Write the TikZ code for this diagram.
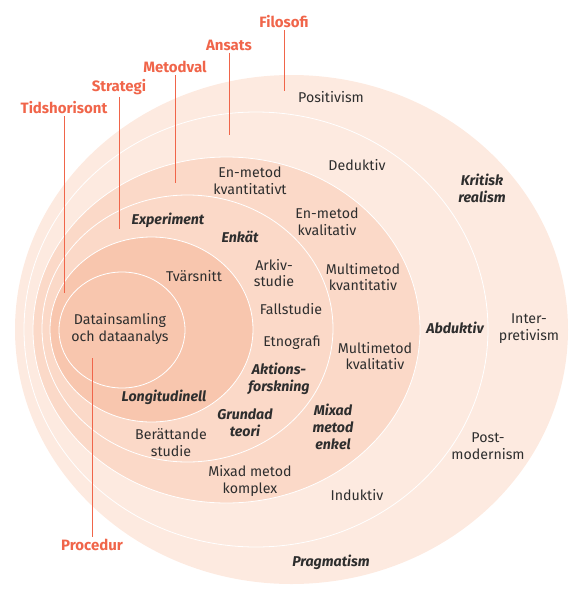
\documentclass[tikz,border=0pt]{standalone}
\usepackage{fontspec}
\setmainfont{Fira Sans}
\definecolor{palebg}{HTML}{FDEAE0}
\definecolor{midbg}{HTML}{FBD9C8}
\definecolor{deepbg}{HTML}{F8C6AE}
\definecolor{accent}{HTML}{F0654A}
\definecolor{ink}{HTML}{2E2E2E}

\begin{document}
\begin{tikzpicture}[
    x=1pt, y=-1pt,
    ring/.style={draw=white, line width=0.8pt, fill=#1},
    term/.style={font=\fontsize{14.2}{16.8}\selectfont, text=ink, align=center, inner sep=1pt},
    keyterm/.style={term, font=\fontsize{14.2}{16.8}\selectfont\bfseries\itshape},
    layer/.style={font=\fontsize{15}{17}\selectfont\bfseries, text=accent, inner sep=2pt},
    pointer/.style={draw=accent, line width=1pt}
]
\useasboundingbox (0,0) rectangle (578,592);

% === Rings, outermost first ===
\fill[palebg] (291.5,329.5) ellipse [x radius=276.5pt, y radius=254.5pt];
\path[ring=palebg] (256,329.5) ellipse [x radius=232pt, y radius=217.5pt];
\path[ring=midbg] (226.5,330) ellipse [x radius=193.5pt, y radius=173pt];
\path[ring=midbg] (187.5,328.5) ellipse [x radius=145.5pt, y radius=133.5pt];
\path[ring=deepbg] (151.5,329.5) ellipse [x radius=101.5pt, y radius=92.5pt];
\path[ring=deepbg] (122,330) ellipse [x radius=63pt, y radius=58pt];

% === Layer names with their pointers ===
\node[layer] (filosofi) at (284,22) {Filosofi};
\node[layer] (ansats) at (229,45) {Ansats};
\node[layer] (metodval) at (175,67) {Metodval};
\node[layer] (strategi) at (119,87) {Strategi};
\node[layer] (tidshorisont) at (64,108) {Tidshorisont};
\node[layer] (procedur) at (92,545) {Procedur};

\coordinate (filosofi-end) at (284,91);
\coordinate (ansats-end) at (229,135);
\coordinate (metodval-end) at (175,183);
\coordinate (strategi-end) at (119,229);
\coordinate (tidshorisont-end) at (64,293);
\coordinate (procedur-end) at (92,358);

\draw[pointer] (filosofi.south) -- (filosofi-end);
\draw[pointer] (ansats.south) -- (ansats-end);
\draw[pointer] (metodval.south) -- (metodval-end);
\draw[pointer] (strategi.south) -- (strategi-end);
\draw[pointer] (tidshorisont.south) -- (tidshorisont-end);
\draw[pointer] (procedur.north) -- (procedur-end);

% === Filosofi ===
\node[term] (positivism) at (331,97) {Positivism};
\node[keyterm] (kritisk) at (482,188) {Kritisk\\realism};
\node[term] (interpret) at (529,329) {Inter-\\pretivism};
\node[term] (postmod) at (488,446) {Post-\\modernism};
\node[keyterm] (pragmatism) at (331,562) {Pragmatism};

% === Ansats ===
\node[term] (deduktiv) at (357,165) {Deduktiv};
\node[keyterm] (abduktiv) at (455,328) {Abduktiv};
\node[term] (induktiv) at (357,495) {Induktiv};

% === Metodval ===
\node[term] (enkvant) at (250,181) {En-metod\\kvantitativt};
\node[term] (enkval) at (327,222) {En-metod\\kvalitativ};
\node[term] (multikvant) at (363,277) {Multimetod\\kvantitativ};
\node[term] (multikval) at (375,356) {Multimetod\\kvalitativ};
\node[keyterm] (mixenkel) at (333,427) {Mixad\\metod\\enkel};
\node[term] (mixkomplex) at (250,481) {Mixad metod\\komplex};

% === Strategi ===
\node[keyterm] (experiment) at (168,220) {Experiment};
\node[keyterm] (enkat) at (240,237) {Enkät};
\node[term] (arkiv) at (274,273) {Arkiv-\\studie};
\node[term] (fallstudie) at (291,309) {Fallstudie};
\node[term] (etnografi) at (292,343) {Etnografi};
\node[keyterm] (aktion) at (279,379) {Aktions-\\forskning};
\node[keyterm] (grundad) at (245,423) {Grundad\\teori};
\node[term] (berattande) at (171,443) {Berättande\\studie};

% === Tidshorisont ===
\node[term] (tvarsnitt) at (194,276) {Tvärsnitt};
\node[keyterm] (longitud) at (164,397) {Longitudinell};

% === Procedur ===
\node[term] (data) at (120,329) {Datainsamling\\och dataanalys};

\end{tikzpicture}
\end{document}
